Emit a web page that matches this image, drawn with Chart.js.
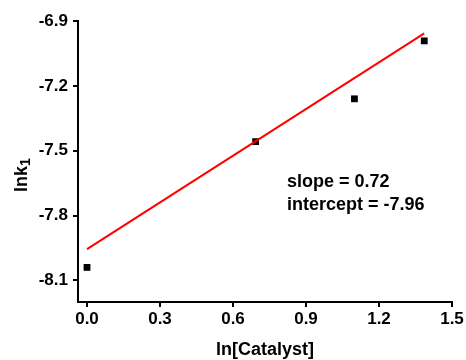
<!DOCTYPE html>
<html>
<head>
<meta charset="utf-8">
<script src="https://cdn.jsdelivr.net/npm/chart.js@4"></script>
<style>
  body { margin: 0; background: #fff; }
</style>
</head>
<body>
<canvas id="graficoCinetica" width="466" height="360"></canvas>
<script>
// data
const lnCatalyst = [0, 0.693, 1.099, 1.386];
const lnK1 = [-8.04, -7.458, -7.26, -6.992];
const fitX = [0, 1.386];
const fitY = [-7.955, -6.957];
const xTicks = [0, 0.3, 0.6, 0.9, 1.2, 1.5];
const yTicks = [-8.1, -7.8, -7.5, -7.2, -6.9];
const fitNotes = ["slope = 0.72", "intercept = -7.96"];
const xTitle = "ln[Catalyst]";
const yTitle = "lnk";
const yTitleSub = "1";

const FONT = '"Liberation Sans", Arial, sans-serif';

const testi = {
  id: "testi",
  afterDraw(chart) {
    const ctx = chart.ctx;
    ctx.save();
    ctx.fillStyle = "#000";
    ctx.textBaseline = "alphabetic";

    // note del fit
    ctx.font = "bold 18px " + FONT;
    ctx.textAlign = "left";
    ctx.fillText(fitNotes[0], 287, 187);
    ctx.fillText(fitNotes[1], 287, 210);

    // titolo asse x
    ctx.font = "bold 18px " + FONT;
    ctx.textAlign = "center";
    ctx.fillText(xTitle, 265, 355);

    // titolo asse y con pedice
    ctx.translate(27, 175);
    ctx.rotate(-Math.PI / 2);
    ctx.font = "bold 18px " + FONT;
    const w1 = ctx.measureText(yTitle).width;
    ctx.font = "bold 14px " + FONT;
    const w2 = ctx.measureText(yTitleSub).width;
    const x0 = -(w1 + w2) / 2;
    ctx.textAlign = "left";
    ctx.font = "bold 18px " + FONT;
    ctx.fillText(yTitle, x0, 0);
    ctx.font = "bold 14px " + FONT;
    ctx.fillText(yTitleSub, x0 + w1, 3);
    ctx.restore();
  }
};

document.addEventListener("DOMContentLoaded", function () {
  const ctx = document.getElementById("graficoCinetica").getContext("2d");
  new Chart(ctx, {
    type: "scatter",
    data: {
      datasets: [{
        label: "fit",
        data: fitX.map((x, i) => ({ x: x, y: fitY[i] })),
        showLine: true,
        borderColor: "#ff0000",
        borderWidth: 2,
        pointRadius: 0,
        fill: false
      }, {
        label: "lnk1",
        data: lnCatalyst.map((x, i) => ({ x: x, y: lnK1[i] })),
        pointStyle: "rect",
        pointRadius: 4.8,
        pointBorderWidth: 0,
        backgroundColor: "#000",
        borderColor: "#000"
      }]
    },
    options: {
      responsive: false,
      animation: false,
      layout: { padding: { top: 21, right: 14, left: 0, bottom: 0 } },
      plugins: {
        legend: { display: false },
        tooltip: { enabled: false }
      },
      scales: {
        x: {
          type: "linear",
          min: -0.037,
          max: 1.5,
          afterBuildTicks: (axis) => { axis.ticks = xTicks.map(v => ({ value: v })); },
          afterFit: (axis) => { axis.height = 58; },
          grid: { drawOnChartArea: false, drawTicks: true, tickLength: 5, color: "#000", lineWidth: 2 },
          border: { display: true, color: "#000", width: 2 },
          ticks: {
            color: "#000",
            padding: 2,
            maxRotation: 0,
            font: { family: FONT, size: 17, weight: "bold" },
            callback: (v) => v.toFixed(1)
          }
        },
        y: {
          min: -8.2,
          max: -6.9,
          afterBuildTicks: (axis) => { axis.ticks = yTicks.map(v => ({ value: v })); },
          afterFit: (axis) => { axis.width = 78; },
          grid: { drawOnChartArea: false, drawTicks: true, tickLength: 5, color: "#000", lineWidth: 2 },
          border: { display: true, color: "#000", width: 2 },
          ticks: {
            color: "#000",
            padding: 5,
            font: { family: FONT, size: 17, weight: "bold" },
            callback: (v) => v.toFixed(1)
          }
        }
      }
    },
    plugins: [testi]
  });
});
</script>
</body>
</html>
